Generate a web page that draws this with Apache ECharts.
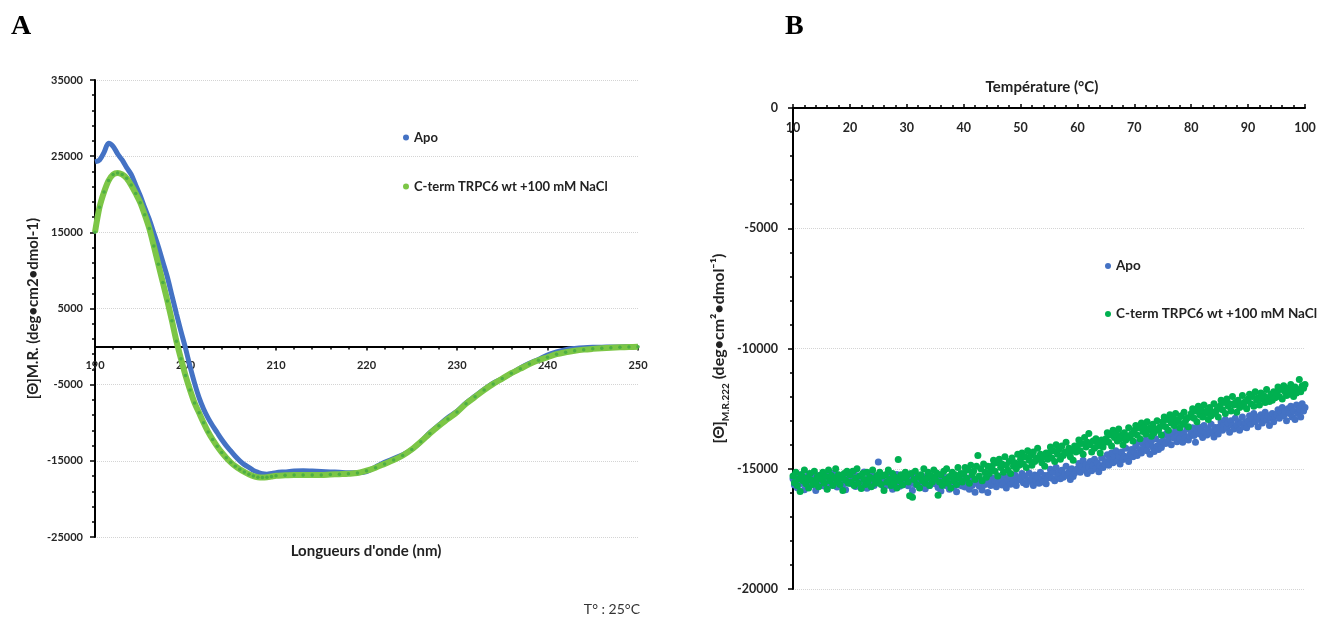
<!DOCTYPE html>
<html>
<head>
<meta charset="utf-8">
<script src="https://cdn.jsdelivr.net/npm/echarts@6/dist/echarts.min.js"></script>
<style>
  html, body { margin: 0; padding: 0; background: #fff; }
  #chart { width: 1333px; height: 619px; }
</style>
</head>
<body>
<div id="chart"></div>
<script>
// ---- Panel A: far-UV CD spectra at 25 °C ----
const wavelengths = [
  190, 190.5, 191, 191.5, 192, 192.5, 193, 193.5, 194, 194.5,
  195, 195.5, 196, 196.5, 197, 197.5, 198, 198.5, 199, 199.5,
  200, 200.5, 201, 201.5, 202, 202.5, 203, 203.5, 204, 204.5,
  205, 205.5, 206, 206.5, 207, 207.5, 208, 208.5, 209, 209.5,
  210, 211, 212, 213, 214, 215, 216, 217, 218, 219,
  220, 221, 222, 223, 224, 225, 226, 227, 228, 229,
  230, 231, 232, 233, 234, 235, 236, 237, 238, 239,
  240, 241, 242, 243, 244, 245, 246, 247, 248, 249, 250
];
const apoSpectrum = [
  24250, 24500, 25500, 26700, 26300, 25300, 24500, 23500, 22600, 21200,
  19800, 18200, 16700, 14900, 13100, 11100, 9100, 6700, 4300, 2000,
  -200, -2600, -4800, -6700, -8200, -9400, -10400, -11300, -12200, -13000,
  -13700, -14400, -15000, -15500, -15850, -16250, -16500, -16700, -16750, -16650,
  -16550, -16450, -16350, -16300, -16350, -16400, -16450, -16500, -16550, -16550,
  -16400, -15800, -15200, -14700, -14200, -13500, -12500, -11300, -10300, -9300,
  -8500, -7400, -6500, -5600, -4800, -4200, -3500, -2800, -2200, -1700,
  -1100, -700, -400, -250, -150, -100, -80, -60, -40, -20, -10
];
const naclSpectrum = [
  15000, 18300, 20300, 21800, 22600, 22800, 22600, 22100, 21200, 20100,
  18900, 17300, 15500, 13200, 10800, 8400, 6000, 3400, 700, -1600,
  -3800, -5700, -7400, -8700, -10000, -11200, -12200, -13100, -13900, -14600,
  -15200, -15700, -16100, -16450, -16750, -17000, -17150, -17200, -17150, -17050,
  -16950, -16900, -16850, -16850, -16850, -16850, -16800, -16750, -16700, -16600,
  -16300, -15900, -15400, -14900, -14300, -13500, -12500, -11400, -10400, -9500,
  -8600, -7500, -6600, -5700, -4900, -4200, -3500, -2900, -2300, -1800,
  -1400, -1000, -750, -550, -400, -300, -220, -150, -100, -60, -30
];

// ---- Panel B: thermal denaturation followed at 222 nm ----
// readings taken every 0.25 °C from 10 °C to 100 °C
const rampStart = 10;
const rampStep = 0.25;
const apoMelt = [
  -15420,-15680,-15310,-15790,-15530,-15250,-15610,-15480,-15870,-15360,-15560,-15220,-15700,-15450,-15640,-15330,-15900,-15510,-15280,-15620,
  -15390,-15710,-15540,-15260,-15830,-15470,-15600,-15350,-15690,-15180,-15520,-15760,-15410,-15580,-15300,-15650,-15450,-15870,-15230,-15560,
  -15360,-15620,-15480,-15210,-15740,-15530,-15300,-15680,-15430,-15590,-15140,-15500,-15810,-15380,-15610,-15260,-15470,-15700,-15340,-15550,
  -14720,-15450,-15620,-15330,-15780,-15500,-15260,-15690,-15410,-15560,-15850,-15370,-15600,-15240,-15520,-15730,-15400,-15640,-15300,-15580,
  -15470,-15710,-15350,-15600,-15900,-15420,-15650,-15280,-15530,-15760,-15390,-15620,-15480,-15830,-15310,-15570,-15700,-15440,-15600,-15360,
  -15620,-15400,-15780,-15530,-15920,-15470,-15650,-15360,-15710,-15580,-15850,-15430,-15600,-15750,-15490,-15960,-15550,-15680,-15400,-15720,
  -15500,-15760,-15640,-15380,-15850,-15570,-15700,-15460,-15980,-15600,-15420,-15730,-15550,-15880,-15490,-15660,-15350,-15990,-15580,-15700,
  -15380,-15620,-15500,-15750,-15290,-15560,-15430,-15680,-15350,-15590,-15800,-15470,-15300,-15640,-15420,-15540,-15250,-15700,-15480,-15360,
  -15420,-15200,-15580,-15310,-15650,-15460,-15180,-15520,-15390,-15700,-15260,-15480,-15340,-15600,-15150,-15430,-15550,-15280,-15620,-15370,
  -15250,-15020,-15400,-15130,-15500,-14950,-15300,-15180,-15420,-15060,-15350,-15220,-14900,-15280,-15140,-15450,-15000,-15320,-15180,-15070,
  -15000,-14780,-15150,-14900,-14650,-15050,-14820,-15200,-14930,-14700,-15080,-14850,-14600,-14990,-14760,-15120,-14880,-14550,-14950,-14800,
  -14700,-14420,-14850,-14580,-14350,-14750,-14500,-14250,-14680,-14460,-14800,-14300,-14620,-14480,-14150,-14550,-14700,-14380,-14200,-14500,
  -14300,-14050,-14450,-13900,-14200,-14350,-13950,-14150,-13800,-14250,-14000,-14400,-13850,-14100,-14280,-13750,-14050,-14200,-13900,-14120,
  -13850,-13600,-13950,-13500,-13780,-13650,-14000,-13550,-13720,-13400,-13880,-13620,-13750,-13480,-13900,-13580,-13700,-13350,-13800,-13650,
  -13500,-13300,-13620,-13900,-13420,-13250,-13560,-13380,-13700,-13200,-13480,-13600,-13330,-13520,-13150,-13450,-13680,-13280,-13400,-13550,
  -13250,-13050,-13400,-13150,-12950,-13320,-13100,-13480,-13000,-13200,-13350,-12900,-13180,-13050,-13400,-13120,-12850,-13250,-13080,-13300,
  -13000,-12800,-13150,-12900,-12700,-13050,-12850,-13250,-12950,-12750,-13100,-12880,-12650,-12980,-12800,-13200,-12900,-12700,-13050,-12820,
  -12750,-12550,-12900,-12650,-12450,-12800,-12600,-13000,-12500,-12700,-12400,-12850,-12600,-12950,-12350,-12700,-12500,-12850,-12300,-12600,
  -12450
];
const naclMelt = [
  -15300,-15580,-15150,-15700,-15420,-15950,-15250,-15500,-15050,-15620,-15380,-15800,-15200,-15480,-15650,-15100,-15550,-15350,-15750,-15280,
  -15450,-15150,-15600,-15320,-15850,-15050,-15500,-15280,-15700,-15400,-15000,-15550,-15250,-15650,-15380,-15900,-15200,-15480,-15100,-15600,
  -15250,-15550,-15100,-15700,-15380,-15000,-15600,-15300,-15820,-15200,-15450,-15650,-15150,-15500,-15350,-15750,-15050,-15420,-15600,-15280,
  -15480,-15150,-15650,-15300,-15900,-15250,-15550,-15050,-15450,-15700,-15200,-15600,-15350,-15800,-14620,-15500,-15250,-15680,-15400,-15150,
  -15300,-15550,-16120,-15200,-16180,-15450,-15100,-15650,-15350,-15800,-15250,-15500,-15000,-15600,-15400,-15150,-15700,-15300,-15550,-15050,
  -15400,-15180,-16100,-15550,-15250,-15700,-15100,-15450,-15000,-15600,-15320,-15800,-15150,-15500,-15250,-15650,-14950,-15400,-15200,-15550,
  -15200,-14950,-15400,-15050,-15600,-14850,-15250,-15100,-15450,-14900,-14450,-15300,-15000,-15500,-14800,-15150,-15350,-14900,-15200,-15050,
  -14900,-14650,-15100,-14750,-15300,-14600,-14950,-14800,-15150,-14500,-14850,-15050,-14700,-15200,-14550,-14900,-14750,-15000,-14400,-14850,
  -14600,-14350,-14800,-14500,-14950,-14250,-14650,-14450,-14850,-14300,-14700,-14550,-14150,-14600,-14400,-14750,-14500,-14900,-14350,-14600,
  -14350,-14100,-14550,-14250,-14700,-14000,-14400,-14200,-14600,-14050,-14450,-14300,-13900,-14350,-14150,-14500,-14250,-14650,-14050,-14300,
  -14050,-13800,-14250,-13950,-14400,-13700,-14100,-13900,-13530,-14000,-14300,-13850,-14150,-13750,-14050,-13950,-14350,-13800,-14100,-13900,
  -13750,-13500,-13900,-13600,-14050,-13400,-13700,-13550,-13850,-13350,-13750,-13600,-14000,-13500,-13800,-13650,-13300,-13700,-13550,-13850,
  -13400,-13200,-13600,-13300,-13750,-13100,-13450,-13250,-13550,-13050,-13400,-13300,-13650,-13150,-13500,-13350,-13000,-13400,-13250,-13600,
  -13050,-12850,-13250,-12950,-13400,-12750,-13100,-12900,-13200,-12700,-13050,-12950,-13300,-12800,-13150,-12650,-13000,-12900,-13250,-12850,
  -12700,-12500,-12900,-12600,-13050,-12400,-12750,-12550,-12850,-12350,-12700,-12600,-12950,-12450,-12800,-12650,-12300,-12700,-12550,-12850,
  -12400,-12150,-12550,-12250,-12700,-12100,-12400,-12300,-12600,-12000,-12350,-12250,-12650,-12150,-12450,-12300,-11950,-12400,-12200,-12500,
  -12100,-11900,-12300,-12000,-12400,-11800,-12150,-12050,-12350,-11850,-12100,-11950,-12250,-11700,-12050,-12200,-11900,-12150,-11800,-12050,
  -11850,-11600,-12000,-11700,-12100,-11550,-11800,-11950,-11650,-11900,-11500,-11750,-12000,-11600,-11850,-11700,-11290,-11800,-11550,-11650,
  -11500
];

const seriesNames = ['Apo', 'C-term TRPC6 wt +100 mM NaCl'];
const FONT = 'Lato, "Open Sans", sans-serif';
const BLUE = '#4472C4';
const GREEN_A = '#7CC646';
const GREEN_B = '#00B050';

const pairs = (xs, ys) => ys.map((v, i) => [xs[i], v]);
const ramp = (ys) => ys.map((v, i) => [rampStart + i * rampStep, v]);
const plain = (v) => String(v);

const axisLineStyle = { color: '#000', width: 2 };
const tickStyle = { color: '#000', width: 1.5 };
const labelStyle = { color: '#262626', fontFamily: FONT, fontWeight: 'bold', fontSize: 11, formatter: plain };
const gridLineStyle = { color: '#d4d4d4', type: 'dotted', width: 1 };

// panel A plot box; the wavelength axis is drawn along the zero line
const gridA = { left: 95, top: 80, width: 543, height: 457 };
const yMinA = -25000, yMaxA = 35000;
const zeroOffsetA = -gridA.height * (0 - yMinA) / (yMaxA - yMinA);

const chart = echarts.init(document.getElementById('chart'), null, { renderer: 'canvas' });

chart.setOption({
  animation: false,
  backgroundColor: '#fff',
  grid: [
    gridA,
    { left: 793, top: 108, width: 512, height: 481 }
  ],
  xAxis: [
    {
      gridIndex: 0, type: 'value', min: 190, max: 250, interval: 10,
      position: 'bottom', offset: zeroOffsetA,
      axisLine: { show: true, onZero: false, lineStyle: axisLineStyle },
      axisTick: { show: true, inside: false, length: 4, lineStyle: tickStyle },
      minorTick: { show: true, splitNumber: 5, length: 3, lineStyle: tickStyle },
      axisLabel: Object.assign({ margin: 13 }, labelStyle),
      splitLine: { show: false }
    },
    {
      gridIndex: 1, type: 'value', position: 'top', min: 10, max: 100, interval: 10,
      axisLine: { show: true, onZero: false, lineStyle: axisLineStyle },
      axisTick: { show: true, inside: false, length: 4, lineStyle: tickStyle },
      minorTick: { show: true, splitNumber: 5, length: 3, lineStyle: tickStyle },
      axisLabel: Object.assign({}, labelStyle, { inside: true, margin: 13, fontSize: 12.5 }),
      splitLine: { show: false }
    }
  ],
  yAxis: [
    {
      gridIndex: 0, type: 'value', min: yMinA, max: yMaxA, interval: 10000,
      axisLine: { show: true, onZero: false, lineStyle: axisLineStyle },
      axisTick: { show: true, length: 5, lineStyle: tickStyle },
      minorTick: { show: true, splitNumber: 5, length: 3, lineStyle: tickStyle },
      axisLabel: Object.assign({ margin: 12 }, labelStyle),
      splitLine: { show: true, lineStyle: gridLineStyle },
      name: '[Θ]M.R. (deg•cm2•dmol-1)',
      nameLocation: 'middle', nameGap: 54,
      nameTextStyle: { fontFamily: FONT, fontWeight: 'bold', fontSize: 15, color: '#222' }
    },
    {
      gridIndex: 1, type: 'value', min: -20000, max: 0, interval: 5000,
      axisLine: { show: true, onZero: false, lineStyle: axisLineStyle },
      axisTick: { show: true, length: 5, lineStyle: tickStyle },
      minorTick: { show: true, splitNumber: 5, length: 3, lineStyle: tickStyle },
      axisLabel: Object.assign({ margin: 15 }, labelStyle, { fontSize: 12.5 }),
      splitLine: { show: true, lineStyle: gridLineStyle },
      name: '{t|[Θ]}{s|M.R.222}{t| (deg•cm²•dmol⁻¹)}',
      nameLocation: 'middle', nameGap: 62,
      nameTextStyle: {
        fontFamily: FONT, fontWeight: 'bold', fontSize: 16, color: '#222',
        rich: {
          t: { fontFamily: FONT, fontWeight: 'bold', fontSize: 16, color: '#222', lineHeight: 24 },
          s: { fontFamily: FONT, fontWeight: 'bold', fontSize: 10, color: '#222', lineHeight: 12, verticalAlign: 'bottom' }
        }
      }
    }
  ],
  legend: [
    {
      orient: 'vertical', left: 398, top: 126, itemGap: 36,
      icon: 'circle', itemWidth: 6, itemHeight: 6, selectedMode: false,
      data: [
        { name: seriesNames[0], itemStyle: { color: BLUE } },
        { name: seriesNames[1], itemStyle: { color: GREEN_A } }
      ],
      textStyle: { fontFamily: FONT, fontWeight: 'bold', fontSize: 13, color: '#222' }
    },
    {
      orient: 'vertical', left: 1100, top: 254, itemGap: 34,
      icon: 'circle', itemWidth: 6, itemHeight: 6, selectedMode: false,
      data: [
        { name: seriesNames[0], itemStyle: { color: BLUE } },
        { name: seriesNames[1], itemStyle: { color: GREEN_B } }
      ],
      textStyle: { fontFamily: FONT, fontWeight: 'bold', fontSize: 13.5, color: '#222' }
    }
  ],
  series: [
    {
      name: seriesNames[0], type: 'line', xAxisIndex: 0, yAxisIndex: 0,
      data: pairs(wavelengths, apoSpectrum),
      smooth: 0.3, showSymbol: false,
      lineStyle: { color: BLUE, width: 5 }, itemStyle: { color: BLUE }
    },
    {
      name: seriesNames[1], type: 'line', xAxisIndex: 0, yAxisIndex: 0,
      data: pairs(wavelengths, naclSpectrum),
      smooth: 0.3, showSymbol: true, symbol: 'circle', symbolSize: 3.5,
      lineStyle: { color: GREEN_A, width: 6 }, itemStyle: { color: '#4DAE43' }
    },
    {
      name: seriesNames[0], type: 'scatter', xAxisIndex: 1, yAxisIndex: 1,
      data: ramp(apoMelt), symbolSize: 7,
      itemStyle: { color: BLUE, opacity: 1 }
    },
    {
      name: seriesNames[1], type: 'scatter', xAxisIndex: 1, yAxisIndex: 1,
      data: ramp(naclMelt), symbolSize: 7,
      itemStyle: { color: GREEN_B, opacity: 1 }
    }
  ],
  graphic: [
    { type: 'text', x: 11, y: 13, style: { text: 'A', font: 'bold 28px "Liberation Serif", serif', fill: '#000' } },
    { type: 'text', x: 785, y: 13, style: { text: 'B', font: 'bold 28px "Liberation Serif", serif', fill: '#000' } },
    { type: 'text', x: 366, y: 551, style: { text: "Longueurs d'onde (nm)", font: 'bold 15px ' + FONT, fill: '#222', align: 'center', verticalAlign: 'middle' } },
    { type: 'text', x: 640, y: 609, style: { text: 'T° : 25°C', font: '14px ' + FONT, fill: '#333', align: 'right', verticalAlign: 'middle' } },
    { type: 'text', x: 1042, y: 87, style: { text: 'Température (°C)', font: 'bold 15px ' + FONT, fill: '#222', align: 'center', verticalAlign: 'middle' } }
  ]
});
</script>
</body>
</html>
